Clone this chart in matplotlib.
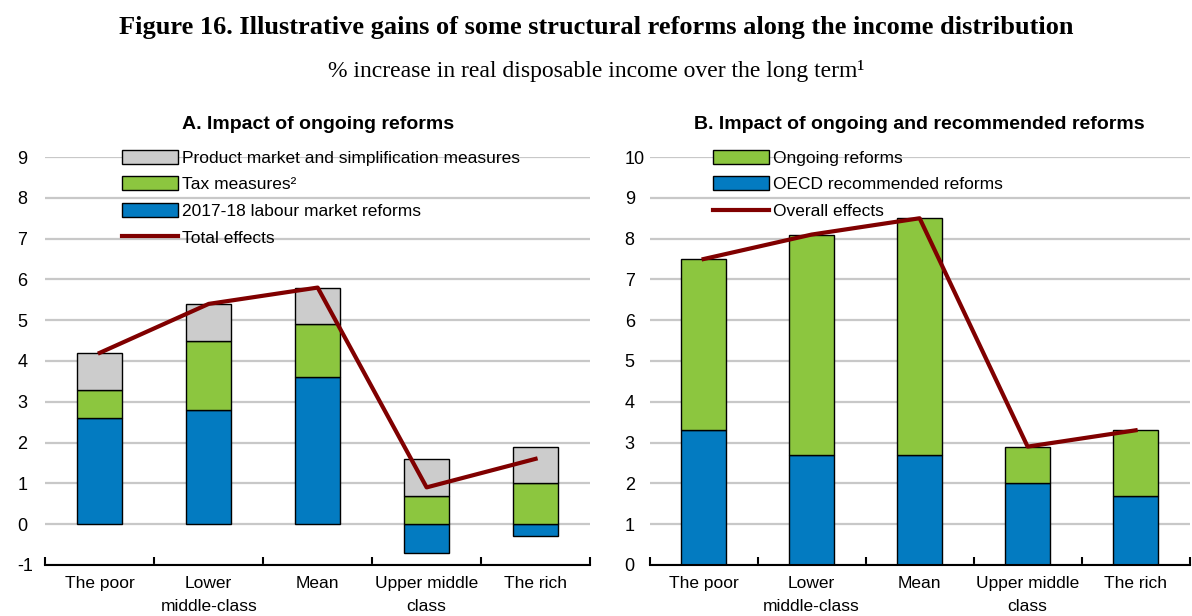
import numpy as np
import matplotlib
matplotlib.use("Agg")
from matplotlib import pyplot as plt
from matplotlib.patches import Patch
from matplotlib.lines import Line2D

groups = ["The poor", "Lower\nmiddle-class", "Mean", "Upper middle\nclass", "The rich"]

# panel A
labour = [2.6, 2.8, 3.6, -0.7, -0.3]
tax = [0.7, 1.7, 1.3, 0.7, 1.0]
product = [0.9, 0.9, 0.9, 0.9, 0.9]
total = [4.2, 5.4, 5.8, 0.9, 1.6]

# panel B
oecd = [3.3, 2.7, 2.7, 2.0, 1.7]
ongoing = [4.2, 5.4, 5.8, 0.9, 1.6]
overall = [7.5, 8.1, 8.5, 2.9, 3.3]

BLUE = "#037BC1"
GREEN = "#8CC63F"
GREY = "#CCCCCC"
RED = "#800000"
SANS = ["Liberation Sans", "DejaVu Sans"]
SERIF = ["Liberation Serif", "DejaVu Serif"]

plt.rcParams["font.family"] = SANS
plt.rcParams["axes.unicode_minus"] = False

fig = plt.figure(figsize=(11.92, 6.16), dpi=100)
axA = fig.add_axes([0.038, 0.083, 0.457, 0.662])
axB = fig.add_axes([0.545, 0.083, 0.453, 0.662])

def style(ax, ylo, yhi, ypad):
    x = np.arange(len(groups))
    ax.set_xlim(-0.5, len(groups) - 0.5)
    ax.set_ylim(ylo, yhi)
    ax.set_yticks(range(ylo, yhi + 1))
    ax.yaxis.grid(True, color="#C8C8C8", lw=1.6, zorder=0)
    ax.set_axisbelow(True)
    for s in ["left", "right", "top"]:
        ax.spines[s].set_visible(False)
    ax.spines["bottom"].set_linewidth(1.5)
    ax.set_xticks(x)
    ax.set_xticklabels(groups, fontsize=12.5, linespacing=1.65)
    ax.set_xticks(np.arange(-0.5, len(groups)), minor=True)
    ax.tick_params(axis="x", which="major", length=0, pad=8)
    ax.tick_params(axis="x", which="minor", direction="in", length=6, width=1.5)
    ax.tick_params(axis="y", length=0, labelsize=13, pad=ypad)
    for lab in ax.get_yticklabels():
        lab.set_horizontalalignment("left")
    return x

legend_kw = dict(loc="upper left", frameon=False, fontsize=12.5,
                 handlelength=3.2, handleheight=0.85, handletextpad=0.25,
                 labelspacing=0.62, borderaxespad=0)

# --- panel A
x = style(axA, -1, 9, 20)
w = 0.41
lab_pos = np.clip(labour, 0, None)
axA.bar(x, labour, w, color=BLUE, edgecolor="black", lw=1, zorder=2)
axA.bar(x, tax, w, bottom=lab_pos, color=GREEN, edgecolor="black", lw=1, zorder=2)
axA.bar(x, product, w, bottom=lab_pos + np.array(tax), color=GREY, edgecolor="black", lw=1, zorder=2)
axA.plot(x, total, color=RED, lw=3, zorder=3)
axA.set_title("A. Impact of ongoing reforms", fontsize=14, fontweight="bold", pad=20)
hA = [Patch(facecolor=GREY, edgecolor="black", lw=1),
      Patch(facecolor=GREEN, edgecolor="black", lw=1),
      Patch(facecolor=BLUE, edgecolor="black", lw=1),
      Line2D([], [], color=RED, lw=3)]
axA.legend(hA, ["Product market and simplification measures", "Tax measures\u00b2",
                "2017-18 labour market reforms", "Total effects"],
           bbox_to_anchor=(0.128, 1.035), **legend_kw)

# --- panel B
x = style(axB, 0, 10, 18)
w = 0.42
axB.bar(x, oecd, w, color=BLUE, edgecolor="black", lw=1, zorder=2)
axB.bar(x, ongoing, w, bottom=oecd, color=GREEN, edgecolor="black", lw=1, zorder=2)
axB.plot(x, overall, color=RED, lw=3, zorder=3)
axB.set_title("B. Impact of ongoing and recommended reforms", fontsize=14, fontweight="bold", pad=20)
hB = [Patch(facecolor=GREEN, edgecolor="black", lw=1),
      Patch(facecolor=BLUE, edgecolor="black", lw=1),
      Line2D([], [], color=RED, lw=3)]
axB.legend(hB, ["Ongoing reforms", "OECD recommended reforms", "Overall effects"],
           bbox_to_anchor=(0.105, 1.035), **legend_kw)

fig.text(0.5, 0.955, "Figure 16. Illustrative gains of some structural reforms along the income distribution",
         ha="center", va="center", fontsize=19, fontweight="bold", family=SERIF)
fig.text(0.5, 0.884, "% increase in real disposable income over the long term\u00b9",
         ha="center", va="center", fontsize=17, family=SERIF)

fig.savefig("out.png", dpi=100)
